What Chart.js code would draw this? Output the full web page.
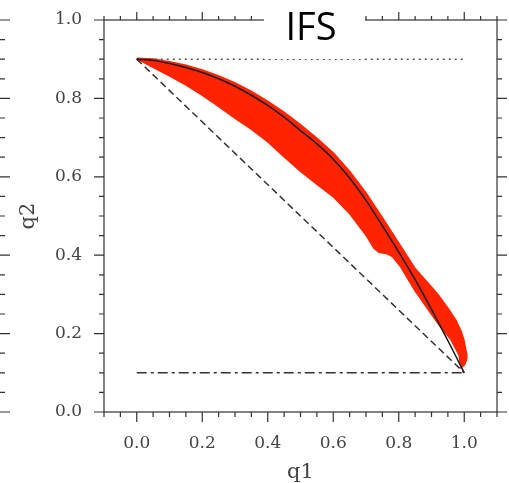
<!DOCTYPE html>
<html>
<head>
<meta charset="utf-8">
<script src="https://cdn.jsdelivr.net/npm/chart.js@4/dist/chart.umd.min.js"></script>
<style>
  html, body { margin: 0; padding: 0; background: #fff; }
  #wrap { width: 509px; height: 483px; }
</style>
</head>
<body>
<div id="wrap"><canvas id="chart"></canvas></div>
<script>
// tick labels
const xTickValues = [0.0, 0.2, 0.4, 0.6, 0.8, 1.0];
const yTickValues = [0.0, 0.2, 0.4, 0.6, 0.8, 1.0];

// black curve (q1 -> q2)
const curveX = [0.00, 0.05, 0.10, 0.15, 0.20, 0.25, 0.30, 0.35, 0.40, 0.45, 0.50, 0.55, 0.60, 0.65, 0.70, 0.75, 0.80, 0.85, 0.90, 0.95, 1.00];
const curveY = [0.900, 0.897, 0.889, 0.879, 0.866, 0.850, 0.831, 0.808, 0.782, 0.752, 0.718, 0.684, 0.645, 0.597, 0.540, 0.475, 0.408, 0.338, 0.262, 0.182, 0.100];

// red cloud: upper / right edge, going out to the tip
const redUpperX = [0.00, 0.05, 0.10, 0.15, 0.20, 0.25, 0.30, 0.35, 0.40, 0.45, 0.50, 0.55, 0.60, 0.65, 0.70, 0.75, 0.80, 0.85, 0.90, 0.92, 0.95, 0.975, 0.99, 0.998, 1.006, 1.007, 1.000, 0.990];
const redUpperY = [0.902, 0.900, 0.893, 0.884, 0.872, 0.857, 0.839, 0.817, 0.792, 0.764, 0.732, 0.698, 0.660, 0.613, 0.558, 0.495, 0.430, 0.365, 0.318, 0.298, 0.264, 0.232, 0.205, 0.184, 0.150, 0.135, 0.120, 0.114];
// red cloud: lower edge, coming back from the tip
const redLowerX = [0.985, 0.960, 0.930, 0.900, 0.850, 0.807, 0.780, 0.765, 0.740, 0.725, 0.700, 0.650, 0.600, 0.550, 0.500, 0.450, 0.400, 0.350, 0.300, 0.250, 0.200, 0.150, 0.100, 0.050, 0.020, 0.000];
const redLowerY = [0.145, 0.185, 0.215, 0.250, 0.310, 0.370, 0.398, 0.404, 0.408, 0.418, 0.452, 0.507, 0.550, 0.582, 0.615, 0.652, 0.690, 0.722, 0.750, 0.780, 0.809, 0.835, 0.858, 0.880, 0.893, 0.900];

// reference lines
const topLineX = [0.0, 1.0];
const topLineY = [0.9, 0.9];
const diagX = [0.0, 1.0];
const diagY = [0.9, 0.1];
const bottomLineX = [0.0, 1.0];
const bottomLineY = [0.1, 0.1];

function toPoints(xs, ys) {
    return xs.map((x, i) => ({ x: x, y: ys[i] }));
}

const redShape = toPoints(redUpperX, redUpperY).concat(toPoints(redLowerX, redLowerY));

// frame with outward ticks on all four sides, plus the ticks of the neighbour panel
const framePlugin = {
    id: 'frame',
    afterDatasetsDraw(chart) {
        const ctx = chart.ctx;
        const a = chart.chartArea;
        const xs = chart.scales.x;
        const ys = chart.scales.y;
        ctx.save();
        ctx.strokeStyle = '#333';
        ctx.lineWidth = 1.2;
        ctx.strokeRect(a.left, a.top, a.right - a.left, a.bottom - a.top);
        ctx.beginPath();
        for (let i = -2; i <= 22; i++) {
            const v = i * 0.05;
            const major = i % 4 === 0 && i >= 0 && i <= 20;
            const px = xs.getPixelForValue(v);
            if (px >= a.left - 0.5 && px <= a.right + 0.5) {
                const len = major ? 10 : 5;
                ctx.moveTo(px, a.bottom);
                ctx.lineTo(px, a.bottom + len);
                ctx.moveTo(px, a.top);
                ctx.lineTo(px, a.top - (major ? 8 : 4));
            }
        }
        for (let i = 0; i <= 20; i++) {
            const v = i * 0.05;
            const major = i % 4 === 0;
            const py = ys.getPixelForValue(v);
            const len = major ? 10 : 5;
            ctx.moveTo(a.left, py);
            ctx.lineTo(a.left - len, py);
            ctx.moveTo(a.right, py);
            ctx.lineTo(a.right + len, py);
            // neighbour panel's right axis ticks at the far left
            ctx.moveTo(0, py);
            ctx.lineTo(len, py);
        }
        ctx.stroke();
        ctx.restore();
    },
    afterDraw(chart) {
        const ctx = chart.ctx;
        ctx.save();
        ctx.fillStyle = '#fff';
        ctx.fillRect(264, 0, 101, 59);
        ctx.fillStyle = '#000';
        ctx.font = '38px "Open Sans"';
        ctx.textAlign = 'center';
        ctx.textBaseline = 'alphabetic';
        ctx.fillText('IFS', 311, 40);
        ctx.restore();
    }
};

const ctx = document.getElementById('chart').getContext('2d');
new Chart(ctx, {
    type: 'line',
    data: {
        datasets: [
            {
                label: 'curve',
                data: toPoints(curveX, curveY),
                borderColor: '#1a1a1a',
                borderWidth: 1.5,
                pointRadius: 0,
                fill: false,
                tension: 0.3,
                order: 1
            },
            {
                label: 'q2 = 0.9',
                data: toPoints(topLineX, topLineY),
                borderColor: '#555',
                borderWidth: 1.5,
                borderDash: [2, 4],
                pointRadius: 0,
                fill: false,
                order: 2
            },
            {
                label: 'diagonal',
                data: toPoints(diagX, diagY),
                borderColor: '#333',
                borderWidth: 1.5,
                borderDash: [7, 4],
                pointRadius: 0,
                fill: false,
                order: 2
            },
            {
                label: 'q2 = 0.1',
                data: toPoints(bottomLineX, bottomLineY),
                borderColor: '#333',
                borderWidth: 1.5,
                borderDash: [10, 4, 3, 4],
                pointRadius: 0,
                fill: false,
                order: 2
            },
            {
                label: 'IFS',
                data: redShape,
                borderColor: '#ff2400',
                backgroundColor: '#ff2400',
                borderWidth: 2,
                pointRadius: 0,
                fill: 'shape',
                tension: 0,
                order: 5
            }
        ]
    },
    options: {
        responsive: true,
        maintainAspectRatio: false,
        animation: false,
        layout: { padding: { left: 0, top: 20, right: 12, bottom: 0 } },
        scales: {
            x: {
                type: 'linear',
                min: -0.1,
                max: 1.1,
                afterBuildTicks: function(scale) {
                    scale.ticks = xTickValues.map(v => ({ value: v }));
                },
                afterFit: function(scale) {
                    scale.height = 71;
                    scale.paddingLeft = 0;
                    scale.paddingRight = 0;
                },
                grid: { display: false, drawTicks: false },
                border: { display: false },
                ticks: {
                    padding: 21,
                    color: '#444',
                    font: { family: 'DejaVu Serif', size: 17 },
                    maxRotation: 0,
                    callback: function(value) { return value.toFixed(1); }
                },
                title: {
                    display: true,
                    text: 'q1',
                    color: '#444',
                    font: { family: 'DejaVu Serif', size: 21, lineHeight: 1 },
                    padding: { top: 0, bottom: 0 }
                }
            },
            y: {
                type: 'linear',
                min: 0,
                max: 1.0,
                afterBuildTicks: function(scale) {
                    scale.ticks = yTickValues.map(v => ({ value: v }));
                },
                afterFit: function(scale) {
                    scale.width = 104;
                    scale.paddingTop = 0;
                    scale.paddingBottom = 0;
                },
                grid: { display: false, drawTicks: false },
                border: { display: false },
                ticks: {
                    padding: 22,
                    color: '#444',
                    font: { family: 'DejaVu Serif', size: 17 },
                    callback: function(value) { return value.toFixed(1); }
                },
                title: {
                    display: true,
                    text: 'q2',
                    color: '#444',
                    font: { family: 'DejaVu Serif', size: 21, lineHeight: 1 },
                    padding: { top: 18, bottom: 0 }
                }
            }
        },
        plugins: {
            legend: { display: false },
            tooltip: { enabled: false }
        }
    },
    plugins: [framePlugin]
});
</script>
</body>
</html>
